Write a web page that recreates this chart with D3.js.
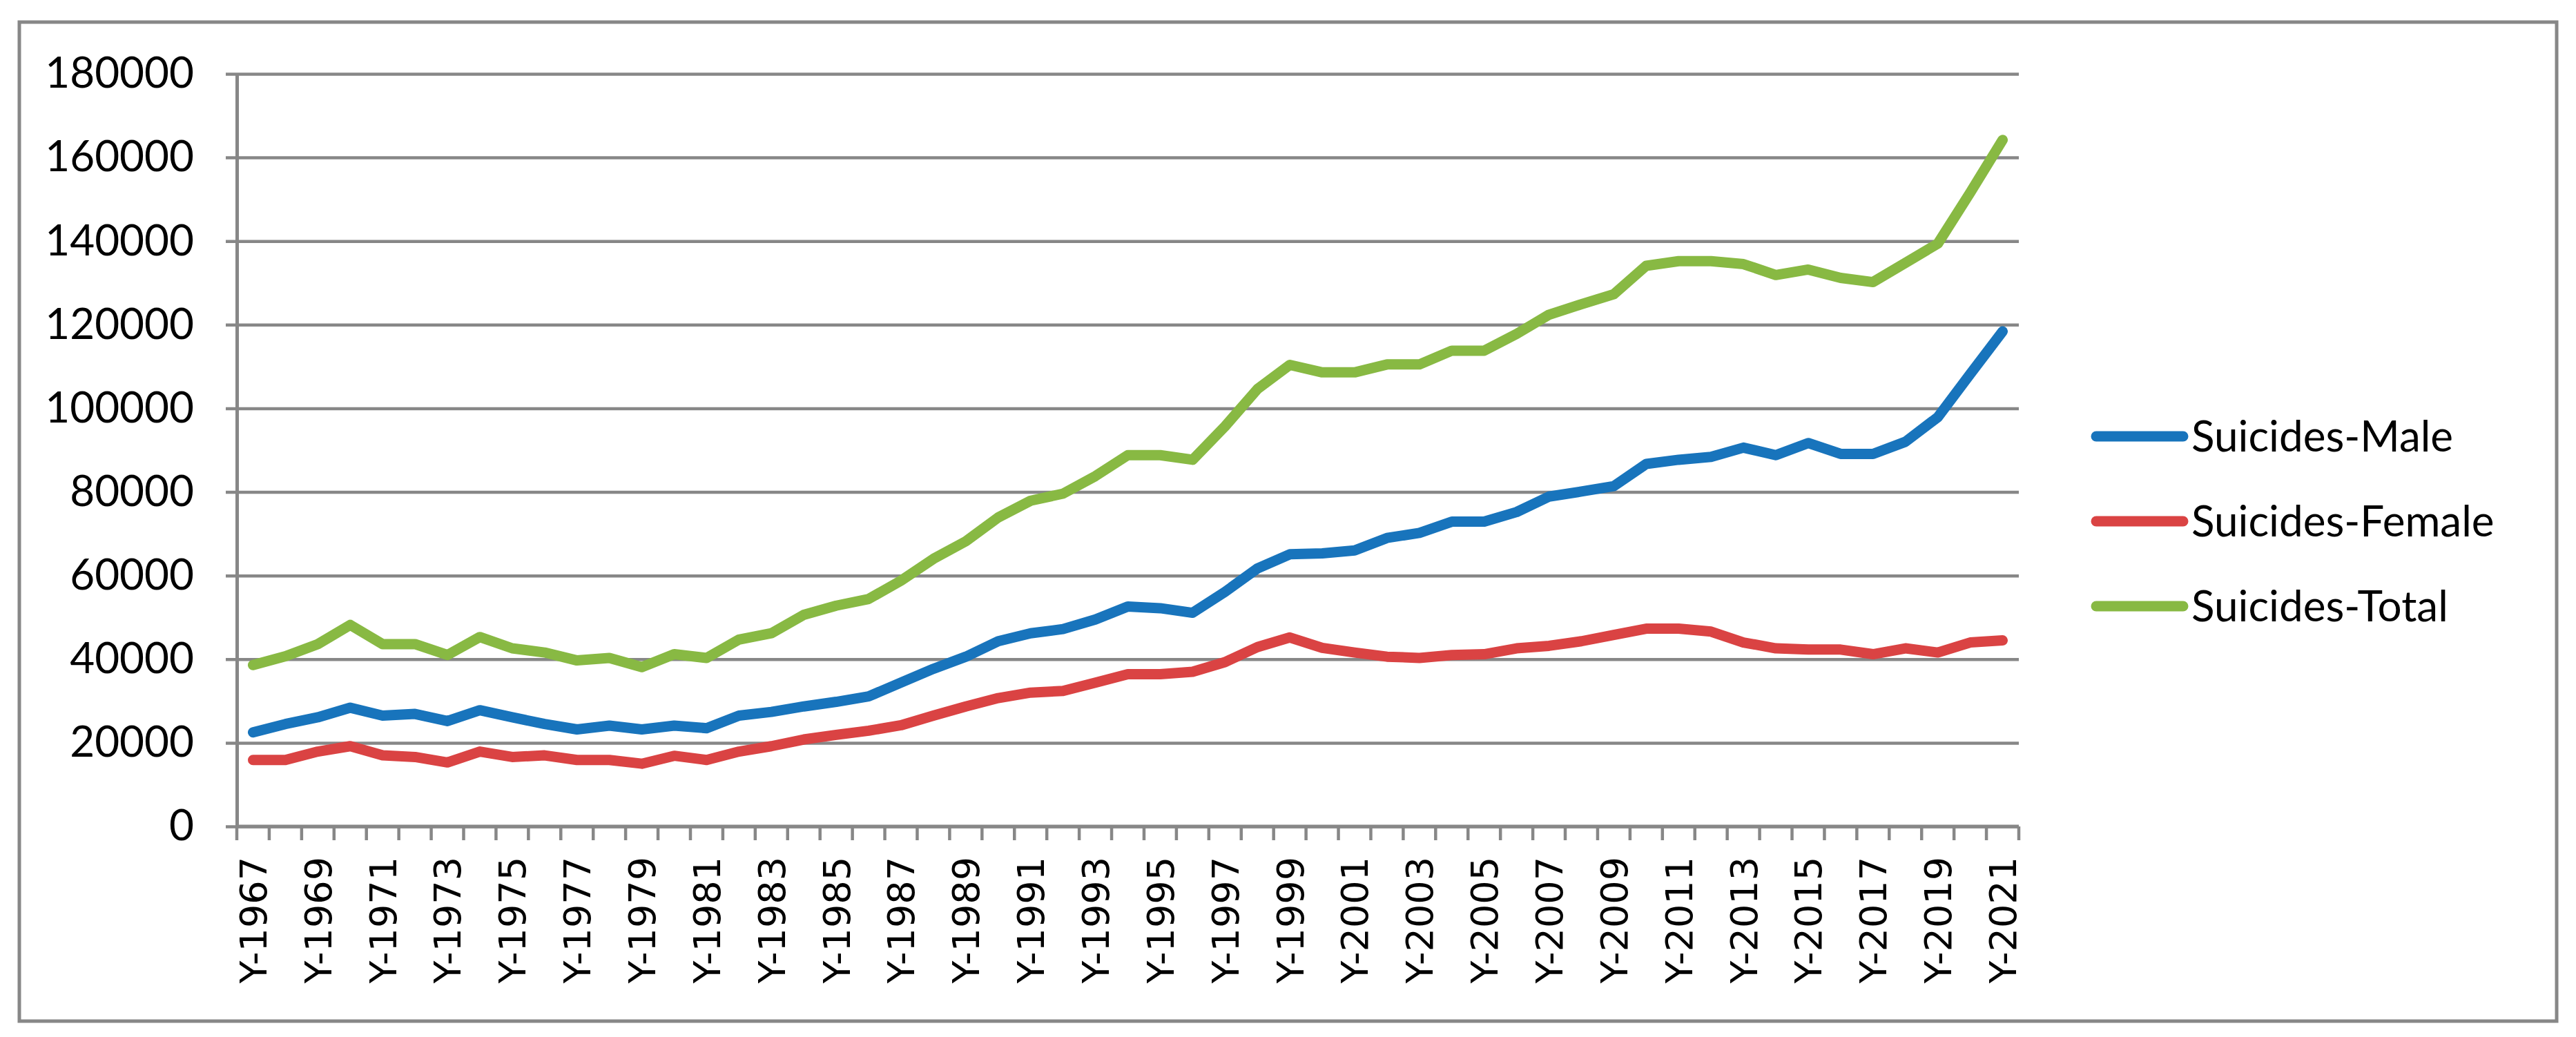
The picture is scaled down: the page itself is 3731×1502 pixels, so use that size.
<!DOCTYPE html>
<html>
<head>
<meta charset="utf-8">
<script src="https://cdn.jsdelivr.net/npm/d3@7"></script>
<style>
	body { margin: 0; background: #fff; }
	svg { display: block; }
</style>
</head>
<body>
<svg id="chart" width="3731" height="1502"></svg>
<script>
	// years on the category axis
	var years = d3.range(1967, 2022).map(function(y){ return "Y-" + y; });

	var male = [22500, 24500, 26100, 28400, 26500, 26900, 25200, 27800, 26100, 24500, 23200, 24100,
		23200, 24100, 23500, 26500, 27400, 28700, 29800, 31100, 34400, 37700, 40600, 44300,
		46200, 47200, 49500, 52600, 52200, 51100, 56100, 61700, 65100, 65300, 66000, 69000,
		70200, 72900, 72900, 75200, 78900, 80100, 81400, 86700, 87700, 88400, 90600, 88800,
		91700, 89100, 89100, 92000, 97900, 108200, 118400];

	var female = [15900, 15900, 17900, 19200, 17000, 16600, 15300, 17900, 16600, 17000, 15900, 15900,
		15000, 16900, 15900, 17900, 19200, 20800, 21900, 22900, 24200, 26500, 28700, 30700,
		32000, 32400, 34400, 36400, 36400, 37000, 39300, 42900, 45200, 42700, 41600, 40600,
		40300, 41000, 41200, 42600, 43200, 44300, 45800, 47300, 47300, 46600, 44000, 42600,
		42300, 42300, 41200, 42600, 41600, 44000, 44500];

	var total = [38600, 40700, 43600, 48200, 43600, 43600, 41000, 45300, 42600, 41600, 39700, 40300,
		38100, 41200, 40300, 44700, 46200, 50600, 52800, 54400, 58800, 64000, 68200, 73900,
		77900, 79600, 83800, 88800, 88800, 87700, 95700, 104600, 110400, 108600, 108600, 110500,
		110500, 113800, 113800, 117800, 122400, 124900, 127300, 134100, 135200, 135200, 134500, 131900,
		133200, 131200, 130200, 134800, 139400, 151600, 164200];

	var seriesNames = ["Suicides-Male", "Suicides-Female", "Suicides-Total"];
	var seriesColors = ["#1874BC", "#DA4343", "#88B943"];
	var yTicks = d3.range(0, 180001, 20000);

	var svg = d3.select("#chart");
	var gridColor = "#878787";

	// outer chart border
	svg.append("rect")
		.attr("x", 28).attr("y", 32)
		.attr("width", 3675).attr("height", 1447)
		.attr("fill", "none")
		.attr("stroke", gridColor)
		.attr("stroke-width", 5);

	var x = d3.scaleBand().domain(years).range([343, 2924]).padding(0);
	var y = d3.scaleLinear().domain([0, 180000]).range([1197, 107]);

	// gridlines + y axis
	var yAxis = d3.axisLeft(y).tickValues(yTicks).tickFormat(d3.format("d"))
		.tickSize(16).tickPadding(46).tickSizeOuter(0);
	var gy = svg.append("g").attr("transform", "translate(343,0)").call(yAxis);
	gy.select(".domain").attr("stroke", gridColor).attr("stroke-width", 5);
	gy.selectAll(".tick line").attr("stroke", gridColor).attr("stroke-width", 4.5)
		.attr("x1", 2924 - 343);
	gy.selectAll(".tick text")
		.attr("font-family", "Lato, 'Open Sans', sans-serif")
		.attr("font-size", 62)
		.attr("fill", "#000");

	// x axis, ticks between categories
	var gx = svg.append("g").attr("transform", "translate(0,1197)");
	gx.append("line")
		.attr("x1", 343).attr("x2", 2924)
		.attr("stroke", gridColor).attr("stroke-width", 5);
	gx.selectAll(".xtick")
		.data(years.concat(["end"]))
		.enter().append("line")
		.attr("class", "xtick")
		.attr("x1", function(d, i){ return 343 + i * x.bandwidth(); })
		.attr("x2", function(d, i){ return 343 + i * x.bandwidth(); })
		.attr("y1", 0).attr("y2", 20)
		.attr("stroke", gridColor).attr("stroke-width", 4.5);
	gx.selectAll(".xlabel")
		.data(years.filter(function(d, i){ return i % 2 === 0; }))
		.enter().append("text")
		.attr("class", "xlabel")
		.attr("transform", function(d){
			return "translate(" + (x(d) + x.bandwidth() / 2) + ",44) rotate(-90)";
		})
		.attr("dy", "0.36em")
		.attr("text-anchor", "end")
		.attr("font-family", "'DejaVu Sans', sans-serif")
		.attr("font-size", 54)
		.attr("fill", "#000")
		.text(function(d){ return d; });

	// series lines
	var allSeries = [male, female, total];
	var line = d3.line()
		.x(function(d, i){ return x(years[i]) + x.bandwidth() / 2; })
		.y(function(d){ return y(d); });

	svg.selectAll(".series")
		.data(allSeries)
		.enter().append("path")
		.attr("class", "series")
		.attr("d", line)
		.attr("fill", "none")
		.attr("stroke", function(d, i){ return seriesColors[i]; })
		.attr("stroke-width", 15)
		.attr("stroke-linejoin", "round")
		.attr("stroke-linecap", "round");

	// legend
	var legend = svg.selectAll(".legend")
		.data(seriesNames)
		.enter().append("g")
		.attr("class", "legend")
		.attr("transform", function(d, i){ return "translate(3036," + (632 + i * 123) + ")"; });
	legend.append("line")
		.attr("x1", 0).attr("x2", 126)
		.attr("stroke", function(d, i){ return seriesColors[i]; })
		.attr("stroke-width", 15)
		.attr("stroke-linecap", "round");
	legend.append("text")
		.attr("x", 138)
		.attr("dy", "0.36em")
		.attr("font-family", "Lato, 'Open Sans', sans-serif")
		.attr("font-size", 62)
		.attr("fill", "#000")
		.text(function(d){ return d; });
</script>
</body>
</html>
